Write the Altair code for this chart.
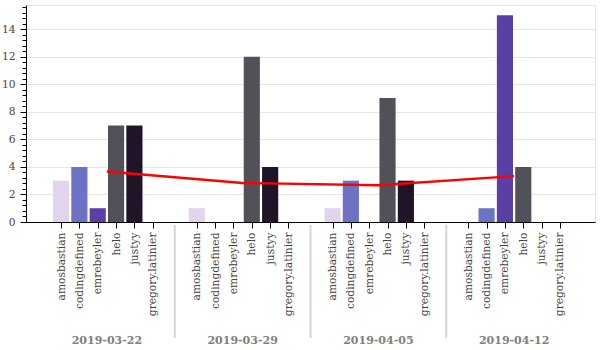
import json
import altair as alt
import pandas as pd

dates = ["2019-03-22", "2019-03-29", "2019-04-05", "2019-04-12"]
people = ["amosbastian", "codingdefined", "emrebeyler", "helo", "justyy", "gregory.latinier"]
colors = ["#e2d4ee", "#6c72c4", "#5b3fa4", "#525059", "#201428", "#0b0710"]
counts_0322 = [3, 4, 1, 7, 7, 0]
counts_0329 = [1, 0, 0, 12, 4, 0]
counts_0405 = [1, 3, 0, 9, 3, 0]
counts_0412 = [0, 1, 15, 4, 0, 0]
counts = [counts_0322, counts_0329, counts_0405, counts_0412]

# nested-factor layout: each person is 1 unit, groups separated by 1.4 units
GP = 1.4
GS = len(people) + GP
NG = len(dates)

rows = []
for g, (d, vals) in enumerate(zip(dates, counts)):
    for i, (p, v) in enumerate(zip(people, vals)):
        rows.append({"date": d, "person": p, "g": g, "i": i, "count": v})
df = pd.DataFrame(rows)

total = NG * len(people) + (NG - 1) * GP
pad = total * 0.05
xs = alt.Scale(domain=[-pad, total + pad], nice=False, zero=False)
ys = alt.Scale(domain=[0, 15.75], nice=False, zero=False)

tick_vals = [g * GS + i + 0.5 for g in range(NG) for i in range(len(people))]
label_expr = f"{json.dumps(people)}[floor(datum.value % {GS})]"

FONT = "DejaVu Serif"

xaxis = alt.Axis(
    orient="bottom", values=tick_vals, labelExpr=label_expr, labelAngle=270, labelFont=FONT,
    labelFontSize=10.67, labelColor="#444444", labelPadding=4, labelOverlap=False,
    labelFlush=False, tickSize=6, tickColor="black", domainColor="black",
    grid=False, title=None,
)
yaxis = alt.Axis(
    orient="left", values=list(range(0, 15, 2)), labelFont=FONT, labelFontSize=10.67,
    labelColor="#444444", labelPadding=5, tickSize=6, tickColor="black",
    domainColor="black", grid=True, gridColor="#e5e5e5", title=None,
)
minor_vals = [round(k * 0.4, 1) for k in range(40)]
minor_axis = alt.Axis(
    orient="left", values=minor_vals, labels=False, tickSize=4, tickColor="black",
    domain=False, grid=False, title=None,
)

cscale = alt.Scale(domain=people, range=colors)

bars = alt.Chart(df).transform_calculate(
    pos=f"datum.g * {GS} + datum.i + 0.5"
).transform_calculate(
    x0="datum.pos - 0.44", x1="datum.pos + 0.44"
).mark_bar(strokeWidth=0).encode(
    x=alt.X("x0:Q", scale=xs, axis=xaxis),
    x2="x1:Q",
    y=alt.Y("count:Q", scale=ys, axis=yaxis),
    y2=alt.datum(0),
    color=alt.Color("person:N", scale=cscale, legend=None),
)

line = alt.Chart(df).transform_aggregate(
    mean="mean(count)", groupby=["g"]
).transform_calculate(
    cx=f"datum.g * {GS} + {len(people) / 2}"
).mark_line(color="red", strokeWidth=2.4).encode(
    x=alt.X("cx:Q", scale=xs, axis=None),
    y=alt.Y("mean:Q", scale=ys, axis=minor_axis),
)

seps = alt.Chart(df).transform_aggregate(
    n="count()", groupby=["g"]
).transform_filter(
    f"datum.g < {NG - 1}"
).transform_calculate(
    sx=f"datum.g * {GS} + {len(people) + GP / 2}"
).mark_rule(color="#d4d4d4", strokeWidth=2).encode(
    x=alt.X("sx:Q", scale=xs, axis=None),
    y=alt.value(220),
    y2=alt.value(333),
)

glabels = alt.Chart(df).transform_aggregate(
    n="count()", groupby=["g", "date"]
).transform_calculate(
    cx=f"datum.g * {GS} + {len(people) / 2}"
).mark_text(
    font=FONT, fontSize=11, fontWeight="bold", color="#808080",
    align="center", baseline="alphabetic",
).encode(
    x=alt.X("cx:Q", scale=xs, axis=None),
    y=alt.value(339),
    text="date:N",
)

chart = alt.layer(bars, line, seps, glabels).resolve_axis(
    x="independent", y="independent"
).properties(
    width=569, height=217,
    autosize=alt.AutoSizeParams(type="none"),
    padding={"left": 26, "top": 5, "right": 5, "bottom": 128},
).configure_view(stroke="#e5e5e5", strokeWidth=1)

chart.save("out.html", embed_options={"renderer": "svg", "actions": False})
